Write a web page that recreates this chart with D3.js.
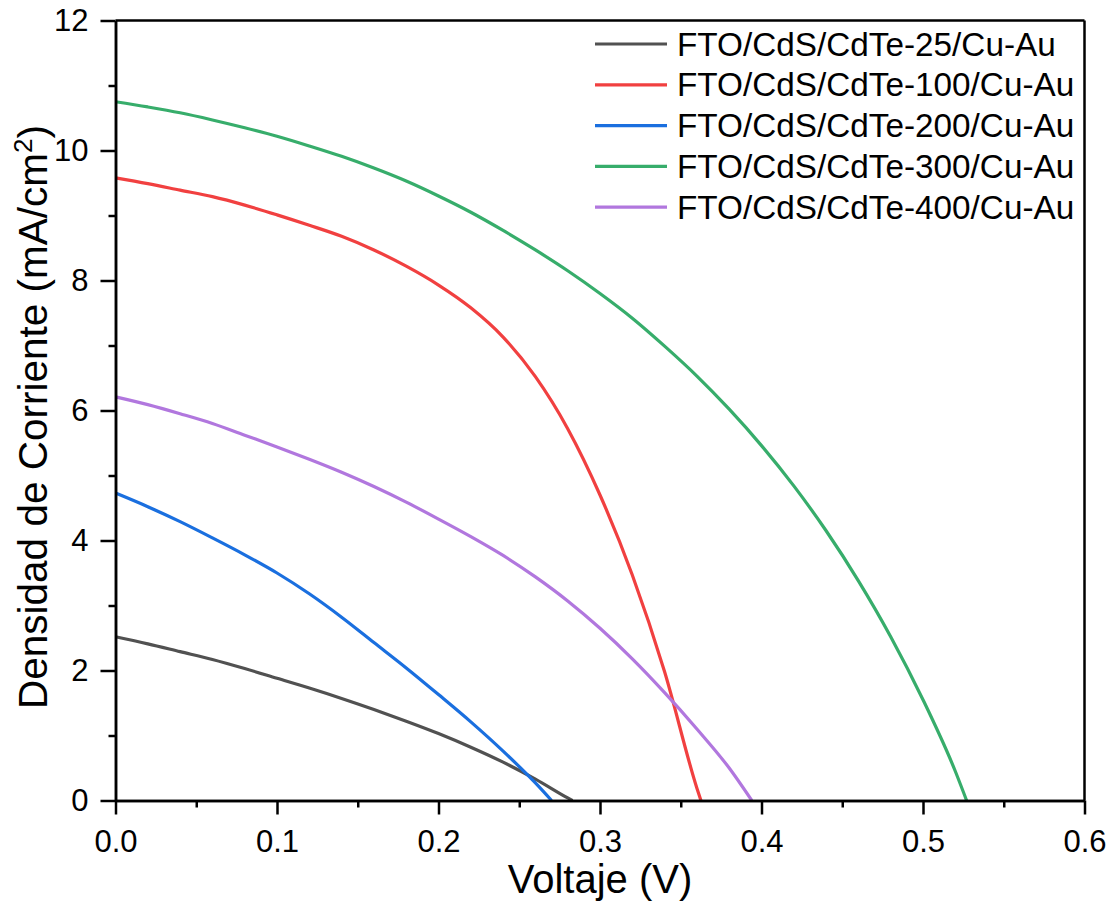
<!DOCTYPE html>
<html>
<head>
<meta charset="utf-8">
<script src="https://cdn.jsdelivr.net/npm/d3@7"></script>
<style>
  html, body { margin: 0; padding: 0; background: #fff; }
  svg { display: block; font-family: "Liberation Sans", Arial, sans-serif; }
</style>
</head>
<body>
<svg id="chart" width="1114" height="901"></svg>
<script>
// ---- Data ----
const seriesNames = [
  "FTO/CdS/CdTe-25/Cu-Au",
  "FTO/CdS/CdTe-100/Cu-Au",
  "FTO/CdS/CdTe-200/Cu-Au",
  "FTO/CdS/CdTe-300/Cu-Au",
  "FTO/CdS/CdTe-400/Cu-Au"
];
const seriesColors = ["#515151", "#F14040", "#1A6FDF", "#37AD6B", "#B177DE"];

const v25  = [0, 0.02, 0.04, 0.06, 0.08, 0.10, 0.12, 0.14, 0.16, 0.18, 0.20, 0.22, 0.24, 0.26, 0.28, 0.283];
const j25  = [2.52, 2.41, 2.29, 2.17, 2.03, 1.88, 1.73, 1.57, 1.40, 1.22, 1.03, 0.82, 0.59, 0.33, 0.04, 0];

const v100 = [0, 0.02, 0.04, 0.06, 0.08, 0.10, 0.12, 0.14, 0.16, 0.18, 0.20, 0.22, 0.24, 0.26, 0.28, 0.30, 0.32, 0.34, 0.36, 0.3625];
const j100 = [9.58, 9.49, 9.39, 9.29, 9.16, 9.01, 8.85, 8.68, 8.47, 8.22, 7.93, 7.58, 7.13, 6.52, 5.72, 4.70, 3.47, 1.98, 0.19, 0];

const v200 = [0, 0.02, 0.04, 0.06, 0.08, 0.10, 0.12, 0.14, 0.16, 0.18, 0.20, 0.22, 0.24, 0.26, 0.27];
const j200 = [4.73, 4.52, 4.29, 4.04, 3.78, 3.50, 3.18, 2.82, 2.43, 2.04, 1.63, 1.21, 0.76, 0.27, 0];

const v300 = [0, 0.02, 0.04, 0.06, 0.08, 0.10, 0.12, 0.14, 0.16, 0.18, 0.20, 0.22, 0.24, 0.26, 0.28, 0.30, 0.32, 0.34, 0.36, 0.38, 0.40, 0.42, 0.44, 0.46, 0.48, 0.50, 0.52, 0.527];
const j300 = [10.75, 10.67, 10.58, 10.47, 10.35, 10.22, 10.07, 9.91, 9.73, 9.53, 9.30, 9.05, 8.77, 8.47, 8.15, 7.80, 7.42, 6.99, 6.53, 6.02, 5.46, 4.84, 4.15, 3.38, 2.52, 1.55, 0.45, 0];

const v400 = [0, 0.02, 0.04, 0.06, 0.08, 0.10, 0.12, 0.14, 0.16, 0.18, 0.20, 0.22, 0.24, 0.26, 0.28, 0.30, 0.32, 0.34, 0.36, 0.38, 0.394];
const j400 = [6.21, 6.09, 5.95, 5.80, 5.62, 5.44, 5.25, 5.05, 4.83, 4.59, 4.33, 4.06, 3.77, 3.44, 3.07, 2.65, 2.18, 1.66, 1.10, 0.50, 0];

const voltages = [v25, v100, v200, v300, v400];
const currents = [j25, j100, j200, j300, j400];

const xTicks = [0, 0.1, 0.2, 0.3, 0.4, 0.5, 0.6];
const xMinorTicks = [0.05, 0.15, 0.25, 0.35, 0.45, 0.55];
const yTicks = [0, 2, 4, 6, 8, 10, 12];
const yMinorTicks = [1, 3, 5, 7, 9, 11];

// ---- Layout ----
const svg = d3.select("#chart");
const plotL = 115.5, plotR = 1084.5, plotT = 20.5, plotB = 800.5;

const x = d3.scaleLinear().domain([0, 0.6]).range([plotL, plotR]);
const y = d3.scaleLinear().domain([0, 12]).range([plotB, plotT]);

// Curves
const line = d3.line()
  .x(d => x(d[0]))
  .y(d => y(d[1]))
  .curve(d3.curveMonotoneX);

const gLines = svg.append("g");
seriesNames.forEach((name, i) => {
  const pts = voltages[i].map((v, k) => [v, currents[i][k]]);
  gLines.append("path")
    .datum(pts)
    .attr("fill", "none")
    .attr("stroke", seriesColors[i])
    .attr("stroke-width", 3.2)
    .attr("stroke-linejoin", "round")
    .attr("d", line);
});

// Frame (top & right)
svg.append("line").attr("x1", plotL).attr("x2", plotR).attr("y1", plotT).attr("y2", plotT)
  .attr("stroke", "#000").attr("stroke-width", 2.5);
svg.append("line").attr("x1", plotR).attr("x2", plotR).attr("y1", plotT).attr("y2", plotB)
  .attr("stroke", "#000").attr("stroke-width", 2.5);

// Axes
const tickFont = 31;
const xAxis = d3.axisBottom(x).tickValues(xTicks).tickFormat(d3.format(".1f")).tickSizeOuter(0).tickSizeInner(14).tickPadding(15);
const gx = svg.append("g").attr("transform", `translate(0,${plotB})`).call(xAxis);
const xMinor = d3.axisBottom(x).tickValues(xMinorTicks).tickFormat("").tickSizeOuter(0).tickSizeInner(7);
const gxm = svg.append("g").attr("transform", `translate(0,${plotB})`).call(xMinor);

const yAxis = d3.axisLeft(y).tickValues(yTicks).tickFormat(d3.format("d")).tickSizeOuter(0).tickSizeInner(15).tickPadding(12);
const gy = svg.append("g").attr("transform", `translate(${plotL},0)`).call(yAxis);
const yMinor = d3.axisLeft(y).tickValues(yMinorTicks).tickFormat("").tickSizeOuter(0).tickSizeInner(7);
const gym = svg.append("g").attr("transform", `translate(${plotL},0)`).call(yMinor);

[gx, gxm, gy, gym].forEach(g => {
  g.select(".domain").attr("stroke", "#000").attr("stroke-width", 2.5);
  g.selectAll(".tick line").attr("stroke", "#000").attr("stroke-width", 2.5);
  g.selectAll(".tick text").attr("fill", "#000").style("font-size", tickFont + "px")
    .style("font-family", '"Liberation Sans", Arial, sans-serif');
});

// Axis titles
svg.append("text")
  .attr("x", 600)
  .attr("y", 893)
  .attr("text-anchor", "middle")
  .style("font-size", "40px")
  .text("Voltaje (V)");

const yTitle = svg.append("text")
  .attr("transform", `translate(47,417) rotate(-90)`)
  .attr("text-anchor", "middle")
  .style("font-size", "40.5px");
yTitle.append("tspan").text("Densidad de Corriente (mA/cm");
yTitle.append("tspan").attr("baseline-shift", "super").style("font-size", "26px").text("2");
yTitle.append("tspan").text(")");

// Legend
const legend = svg.append("g");
const legY0 = 44, legStep = 40.8;
seriesNames.forEach((name, i) => {
  const ly = legY0 + i * legStep;
  legend.append("line")
    .attr("x1", 595).attr("x2", 667).attr("y1", ly).attr("y2", ly)
    .attr("stroke", seriesColors[i]).attr("stroke-width", 3.2);
  legend.append("text")
    .attr("x", 677).attr("y", ly + 11.5)
    .style("font-size", "33.3px")
    .text(name);
});
</script>
</body>
</html>
